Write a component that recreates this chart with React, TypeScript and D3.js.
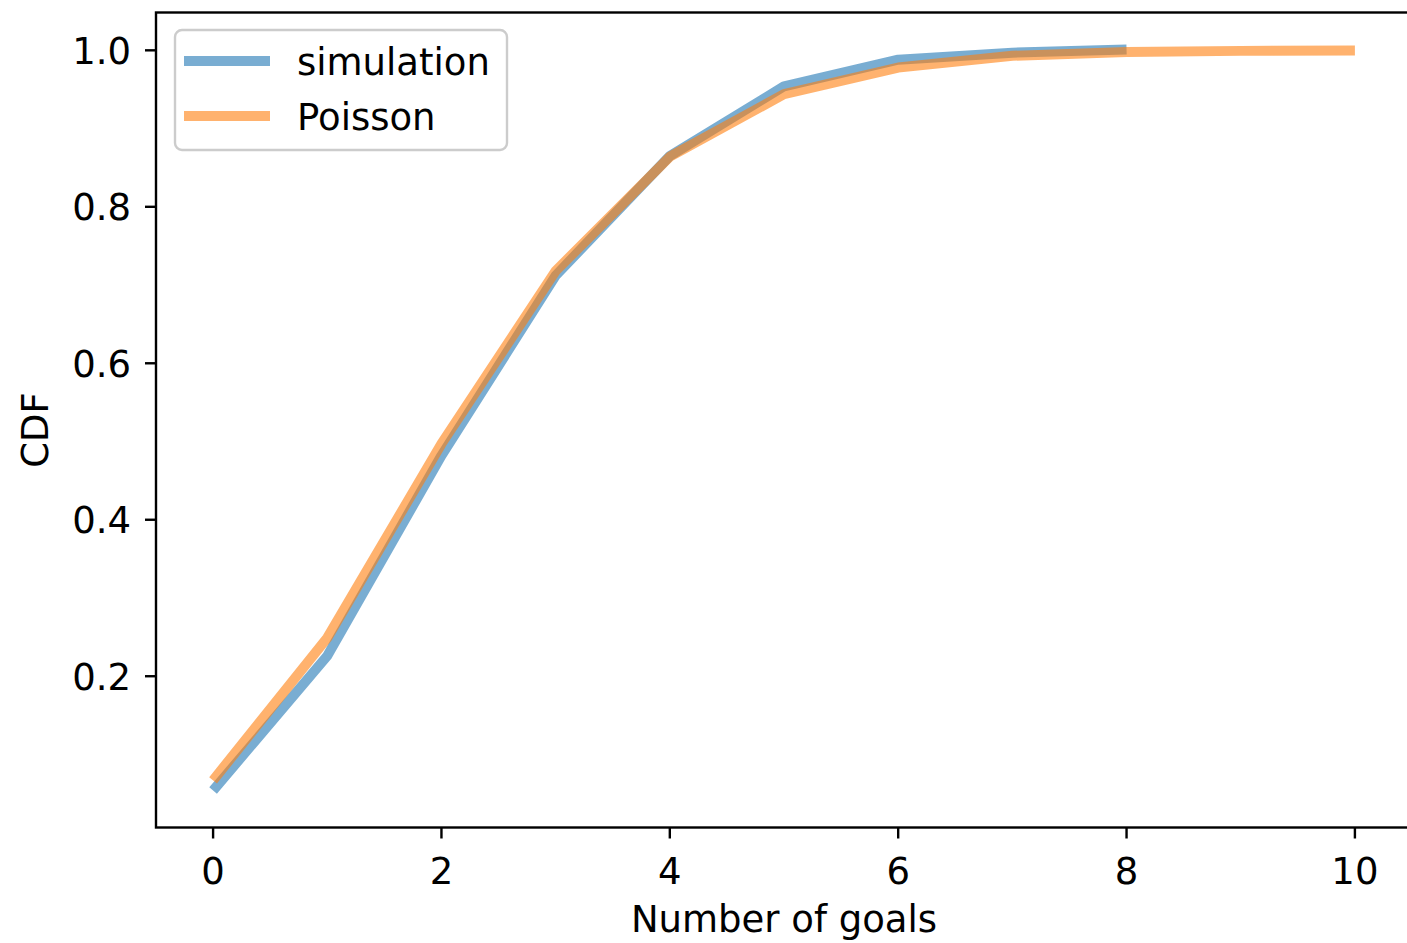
import React from "react";
import * as d3 from "d3";

// Cumulative distribution of goals per game
const goals = [0, 1, 2, 3, 4, 5, 6, 7, 8, 9, 10];
const simulationGoals = [0, 1, 2, 3, 4, 5, 6, 7, 8];
const simulationCdf = [0.054, 0.226, 0.482, 0.712, 0.865, 0.954, 0.988, 0.997, 1.001];
const poissonCdf = [0.067, 0.249, 0.497, 0.718, 0.864, 0.944, 0.978, 0.993, 0.998, 0.9993, 0.9998];
const xTicks = [0, 2, 4, 6, 8, 10];
const yTicks = [0.2, 0.4, 0.6, 0.8, 1.0];

const W = 1407;
const H = 943;
const left = 156;
const right = 1412;
const top = 12.5;
const bottom = 827.5;
const FONT = "DejaVu Sans, sans-serif";
const FS = 37;

export default function App() {
  const x = d3.scaleLinear().domain([-0.5, 10.5]).range([left, right]);
  const allY = [...simulationCdf, ...poissonCdf];
  const yMin = d3.min(allY) as number;
  const yMax = d3.max(allY) as number;
  const pad = (yMax - yMin) * 0.05;
  const y = d3.scaleLinear().domain([yMin - pad, yMax + pad]).range([bottom, top]);

  const line = d3
    .line<[number, number]>()
    .x((d) => x(d[0]))
    .y((d) => y(d[1]));

  const simPath = line(simulationGoals.map((g, i) => [g, simulationCdf[i]]) as [number, number][]) || "";
  const poiPath = line(goals.map((g, i) => [g, poissonCdf[i]]) as [number, number][]) || "";

  const blue = "#1f77b4";
  const orange = "#ff7f0e";
  const lw = 10;

  return (
    <svg
      width={W}
      height={H}
      style={{ position: "absolute", left: 0, top: 0, background: "#fff" }}
      fontFamily={FONT}
    >
      <defs>
        <clipPath id="plotArea">
          <rect x={left} y={top} width={right - left} height={bottom - top} />
        </clipPath>
      </defs>
      <rect x={0} y={0} width={W} height={H} fill="#fff" />

      <g clipPath="url(#plotArea)">
        <path d={simPath} fill="none" stroke={blue} strokeOpacity={0.6} strokeWidth={lw} strokeLinejoin="round" />
        <path d={poiPath} fill="none" stroke={orange} strokeOpacity={0.6} strokeWidth={lw} strokeLinejoin="round" />
      </g>

      {/* spines */}
      <rect x={left} y={top} width={right - left} height={bottom - top} fill="none" stroke="#000" strokeWidth={2.4} />

      {/* x axis ticks */}
      {xTicks.map((t) => (
        <g key={"x" + t}>
          <line x1={x(t)} x2={x(t)} y1={bottom} y2={bottom + 11} stroke="#000" strokeWidth={2.4} />
          <text x={x(t)} y={bottom + 56} textAnchor="middle" fontSize={FS} fill="#000">
            {t}
          </text>
        </g>
      ))}

      {/* y axis ticks */}
      {yTicks.map((t) => (
        <g key={"y" + t}>
          <line x1={left - 11} x2={left} y1={y(t)} y2={y(t)} stroke="#000" strokeWidth={2.4} />
          <text x={left - 25} y={y(t)} dy="0.36em" textAnchor="end" fontSize={FS} fill="#000">
            {d3.format(".1f")(t)}
          </text>
        </g>
      ))}

      <text x={784} y={932} textAnchor="middle" fontSize={FS} fill="#000">
        Number of goals
      </text>
      <text
        transform={`translate(48, ${(top + bottom) / 2 + 10}) rotate(-90)`}
        textAnchor="middle"
        fontSize={FS}
        fill="#000"
      >
        CDF
      </text>

      {/* legend */}
      <g>
        <rect x={175} y={30} width={332} height={120} rx={7} fill="#fff" fillOpacity={0.8} stroke="#cccccc" strokeWidth={2.4} />
        <line x1={184} x2={270} y1={61} y2={61} stroke={blue} strokeOpacity={0.6} strokeWidth={lw} />
        <text x={297} y={75} fontSize={FS} fill="#000">
          simulation
        </text>
        <line x1={184} x2={270} y1={116} y2={116} stroke={orange} strokeOpacity={0.6} strokeWidth={lw} />
        <text x={297} y={130} fontSize={FS} fill="#000">
          Poisson
        </text>
      </g>
    </svg>
  );
}
